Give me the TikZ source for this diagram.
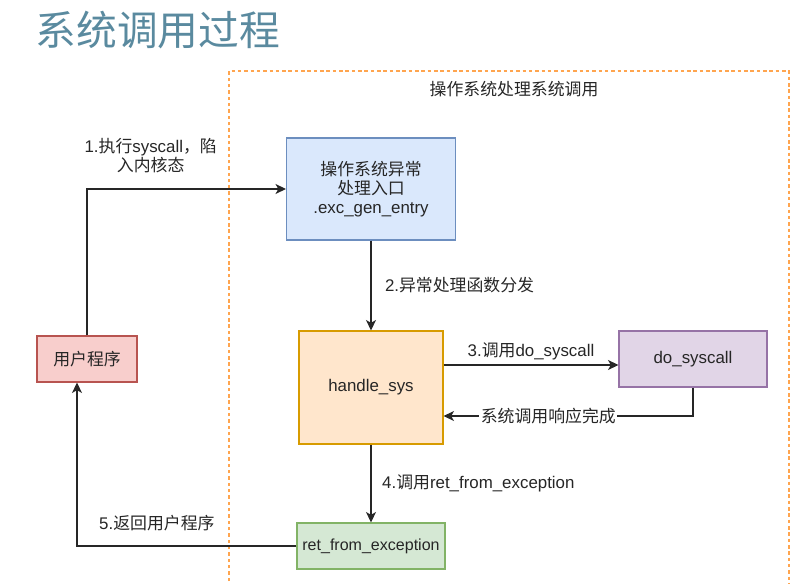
\documentclass[tikz,border=0pt]{standalone}
\usepackage{fontspec}
\setmainfont{Liberation Sans}
\newfontfamily\cjk{Noto Sans CJK SC}
\usepackage{xcolor}
\usepackage{tikz}
\usetikzlibrary{arrows.meta, positioning}

\definecolor{titleblue}{HTML}{5A8A9F}
\definecolor{osframe}{HTML}{FFA54F}
\definecolor{excfill}{HTML}{DAE8FC}
\definecolor{excline}{HTML}{6C8EBF}
\definecolor{handlefill}{HTML}{FFE6CC}
\definecolor{handleline}{HTML}{D79B00}
\definecolor{dofill}{HTML}{E1D5E7}
\definecolor{doline}{HTML}{9673A6}
\definecolor{retfill}{HTML}{D5E8D4}
\definecolor{retline}{HTML}{82B366}
\definecolor{userfill}{HTML}{F8CECC}
\definecolor{userline}{HTML}{B85450}

\begin{document}
\begin{tikzpicture}[
    x=0.025cm, y=-0.025cm,
    box/.style={rectangle, line width=0.8pt, align=center,
                font=\fontsize{12}{13.5}\selectfont, text=black!85},
    arr/.style={-{Stealth[length=2.6mm,width=2.5mm,inset=0.7mm]}, line width=0.75pt, draw=black!85},
    lbl/.style={font=\fontsize{12}{13}\selectfont, text=black!85, align=center},
]
\useasboundingbox (0,0) rectangle (804,584);

% title and the OS frame
\node[font=\cjk\fontsize{29}{34}\selectfont, text=titleblue] (title) at (158,30) {系统调用过程};
\draw[osframe, line width=0.9pt, dash pattern=on 2.5pt off 2pt] (229,600) -- (229,71) -- (789,71) -- (789,600);
\node[lbl] (oslbl) at (514,89) {\cjk 操作系统处理系统调用};

% boxes
\node[box, fill=excfill, draw=excline, minimum width=4.225cm, minimum height=2.55cm]
    (exc) at (371,189) {{\cjk 操作系统异常}\\{\cjk 处理入口}\\.exc\_gen\_entry};
\node[box, fill=handlefill, draw=handleline, minimum width=3.6cm, minimum height=2.825cm]
    (handle) at (371,387.5) {handle\_sys};
\node[box, fill=dofill, draw=doline, minimum width=3.7cm, minimum height=1.4cm]
    (dosys) at (693,359) {do\_syscall};
\node[box, fill=retfill, draw=retline, minimum width=3.7cm, minimum height=1.15cm,
      inner xsep=1pt, font=\fontsize{11.4}{13}\selectfont]
    (retexc) at (371,546) {ret\_from\_exception};
\node[box, fill=userfill, draw=userline, minimum width=2.5cm, minimum height=1.15cm]
    (user) at (87,359) {\cjk 用户程序};

% connectors
\coordinate (c3) at ([yshift=-0.15cm]dosys.west);
\draw[arr] (user.north) |- node[lbl, above, pos=0.66, yshift=0.28cm]
    {1.{\cjk 执行}syscall{\cjk ，陷}\\{\cjk 入内核态}} (exc.west);
\draw[arr] (exc) -- node[lbl, right, xshift=0.22cm] {2.{\cjk 异常处理函数分发}} (handle);
\draw[arr] (handle.east |- c3) -- node[lbl, above] {3.{\cjk 调用}do\_syscall} (c3);
\draw[arr] (dosys.south) |- node[lbl, fill=white, inner sep=1pt, pos=0.79]
    {\cjk 系统调用响应完成} ([yshift=-0.7125cm]handle.east);
\draw[arr] (handle) -- node[lbl, right, xshift=0.15cm] {4.{\cjk 调用}ret\_from\_exception} (retexc);
\draw[arr] (retexc.west) -| node[lbl, above, pos=0.318, yshift=0.25cm]
    {5.{\cjk 返回用户程序}} ([xshift=-0.25cm]user.south);
\end{tikzpicture}
\end{document}
